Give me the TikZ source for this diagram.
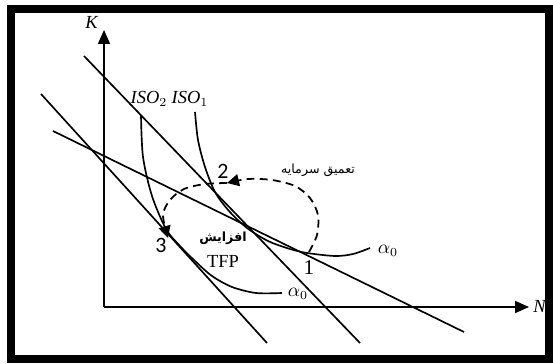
\documentclass[tikz,border=0pt]{standalone}
\usepackage{fontspec}
\setmainfont{Liberation Serif}
\newfontfamily\arabicfont[Script=Arabic]{DejaVu Sans}
\newfontfamily\digitfont{Carlito}
\TeXXeTstate=1
\usepackage{tikz}
\usetikzlibrary{arrows.meta,positioning}
\tikzset{
  frame/.style={draw=black, line width=4.5pt},
  axis/.style={-{Triangle[length=2.8mm, width=2.4mm]}, line width=1pt},
  budget/.style={line width=0.95pt},
  iso/.style={line width=0.95pt},
  moveline/.style={dash pattern=on 4.5pt off 3pt, line width=1pt, -{Triangle[length=2.4mm, width=2.4mm]}},
  lbl/.style={inner sep=0pt, font=\fontsize{10.5}{12}\selectfont},
  numlbl/.style={inner sep=0pt, font=\digitfont\fontsize{12.5}{14}\selectfont},
  fatxt/.style={inner sep=0pt, font=\arabicfont\fontsize{7.2}{9}\selectfont}
}

\begin{document}
\begin{tikzpicture}[x=0.02cm, y=-0.02cm]
    \useasboundingbox (0,0) rectangle (553,364);
    \draw[frame] (11,9) rectangle (549,359);
    % axes
    \coordinate (O) at (104,307);
    \coordinate (kTop) at (104,30);
    \coordinate (nEnd) at (529,307);
    \draw[axis] (O) -- (kTop);
    \draw[axis] (O) -- (nEnd);
    \node[lbl] (kLbl) at (92,22) {\textit{K}};
    \node[lbl] (nLbl) at (540,306) {\textit{N}};
    % cost lines
    \coordinate (aS) at (84,56);
    \coordinate (aE) at (360,343);
    \coordinate (bS) at (41,94);
    \coordinate (bE) at (267,343);
    \coordinate (cS) at (53,131);
    \coordinate (cE) at (464,332);
    \draw[budget] (aS) -- (aE);
    \draw[budget] (bS) -- (bE);
    \draw[budget] (cS) -- (cE);
    % isoquants
    \draw[iso] plot[smooth] coordinates {(195,112) (198,140) (205,167) (215,192) (229,211) (247,228) (268,241) (290,249) (307,253) (335,256) (353,254) (370,248)};
    \draw[iso] plot[smooth] coordinates {(141,115) (143,157) (152,196) (166,229) (180,246) (195,261) (212,276) (232,287) (256,293) (282,293)};
    \node[lbl] (iso2) at (149,99) {\textit{ISO}$_2$};
    \node[lbl] (iso1) at (190,99) {\textit{ISO}$_1$};
    \node[lbl] (a0up) at (388,251) {$\alpha_0$};
    \node[lbl] (a0lo) at (298,294) {$\alpha_0$};
    % points
    \coordinate (p1) at (309,252);
    \coordinate (p2) at (227,183);
    \coordinate (p3) at (168,238);
    \node[lbl, font=\fontsize{12}{14}\selectfont] (n1) at (309,268) {1};
    \node[numlbl] (n2) at (223,171) {2};
    \node[numlbl] (n3) at (161,245) {3};
    % shifts
    \draw[moveline] plot[smooth] coordinates {(p1) (317,235) (318,215) (310,198) (295,186) (272,180) (248,179) (p2)};
    \draw[moveline] plot[smooth] coordinates {(p2) (205,184) (184,189) (170,200) (163,215) (p3)};
    \node[fatxt] (deep) at (318,170) {\beginR تعمیق سرمایه\endR};
    \node[fatxt, font=\arabicfont\bfseries\fontsize{7.2}{9}\selectfont] (incr) at (223,238) {\beginR افزایش\endR};
    \node[lbl] (tfp) at (223,261) {TFP};
\end{tikzpicture}
\end{document}
